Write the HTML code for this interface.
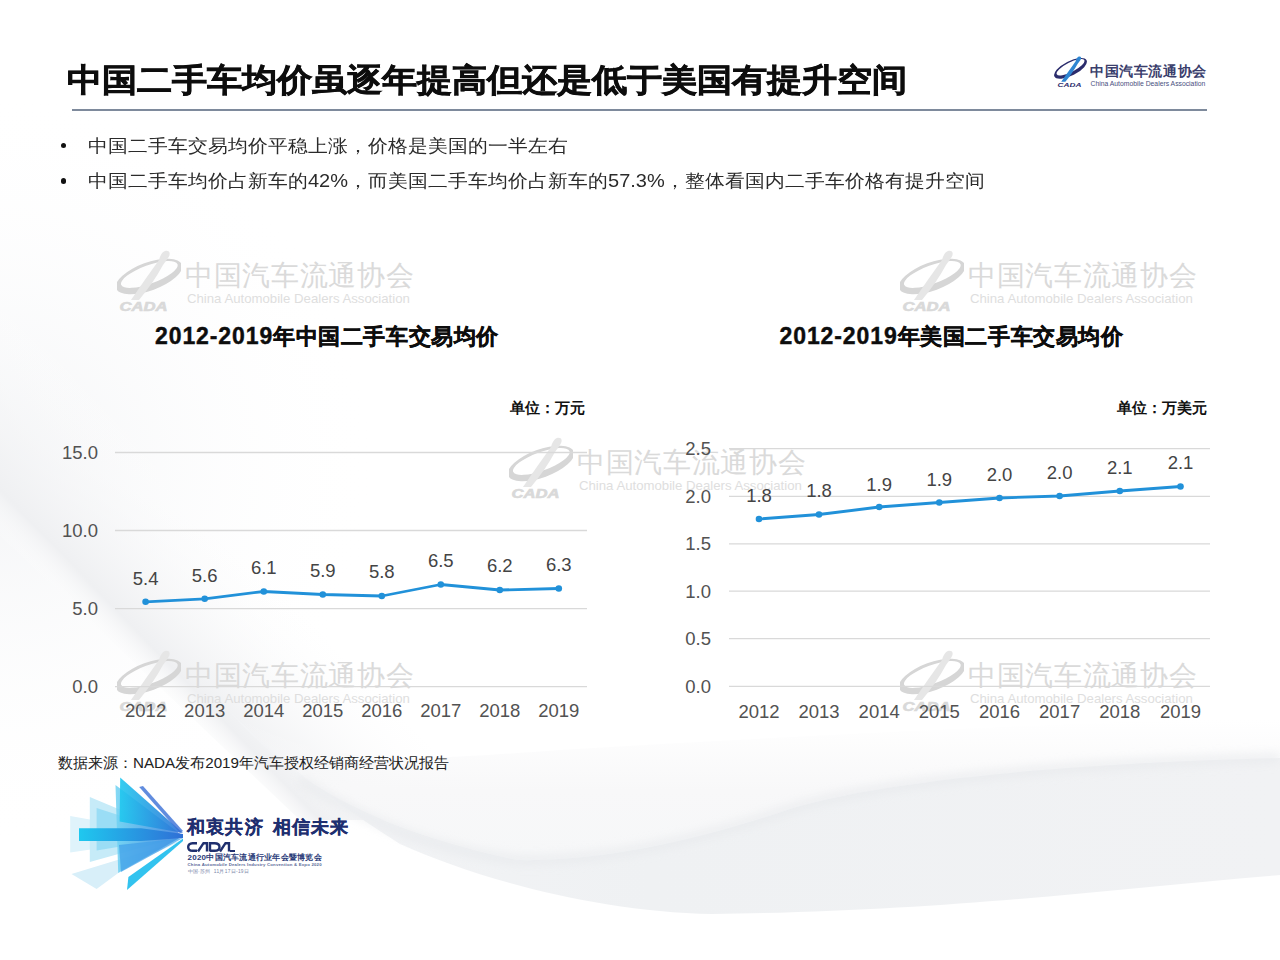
<!DOCTYPE html>
<html><head><meta charset="utf-8">
<style>
html,body{margin:0;padding:0;}
body{width:1280px;height:960px;position:relative;overflow:hidden;background:#fff;font-family:"Liberation Sans",sans-serif;color:#222;}
.a{position:absolute;white-space:nowrap;}
#title{left:67px;top:55.5px;font-size:35px;font-weight:bold;color:#0d0d0d;-webkit-text-stroke:0.7px #0d0d0d;line-height:48px;letter-spacing:0px;transform:scaleY(0.91);transform-origin:0 23.5px;}
#rule{left:72px;top:109px;width:1135px;height:2px;background:#7e8a9c;}
.bul{left:88px;font-size:20px;color:#2b2b2b;line-height:28px;transform:scaleY(0.91);transform-origin:0 13.8px;}
.dot{left:59px;font-size:16px;color:#2b2b2b;line-height:28px;}
.ctitle{letter-spacing:0.6px;font-size:22px;font-weight:bold;color:#0d0d0d;-webkit-text-stroke:0.4px #0d0d0d;line-height:30px;}
.dg{letter-spacing:0.9px;font-size:23px;}
.unit{font-size:15px;font-weight:bold;color:#111;line-height:20px;}
#src{left:58px;top:753px;font-size:15.2px;color:#222;line-height:20px;}
.wm{position:absolute;width:300px;height:65px;}
.wm svg{position:absolute;left:0;top:0;}
.wm .cn{position:absolute;left:68px;top:9px;font-size:28px;letter-spacing:0.7px;color:#dadada;line-height:34px;white-space:nowrap;}
.wm .en{position:absolute;left:70px;top:41px;font-size:13.2px;color:#dedede;line-height:16px;white-space:nowrap;}
</style></head>
<body>
<!-- background waves -->
<svg class="a" style="left:0;top:0" width="1280" height="960" viewBox="0 0 1280 960">
  <defs>
    <radialGradient id="haze" cx="0" cy="470" r="380" gradientUnits="userSpaceOnUse">
      <stop offset="0" stop-color="#f3f4f6"/>
      <stop offset="1" stop-color="#ffffff" stop-opacity="0"/>
    </radialGradient>
    <linearGradient id="fold" x1="128" y1="674" x2="258" y2="548" gradientUnits="userSpaceOnUse">
      <stop offset="0" stop-color="#ffffff" stop-opacity="0"/>
      <stop offset="0.2" stop-color="#eff0f2" stop-opacity="1"/>
      <stop offset="1" stop-color="#ffffff" stop-opacity="0"/>
    </linearGradient>
    <linearGradient id="rib" x1="230" y1="0" x2="1280" y2="0" gradientUnits="userSpaceOnUse">
      <stop offset="0" stop-color="#f3f4f6"/>
      <stop offset="0.4" stop-color="#eff1f3"/>
      <stop offset="1" stop-color="#f1f2f4"/>
    </linearGradient>
    <linearGradient id="rib2" x1="0" y1="700" x2="0" y2="910" gradientUnits="userSpaceOnUse">
      <stop offset="0" stop-color="#ffffff" stop-opacity="0"/>
      <stop offset="1" stop-color="#f1f3f5"/>
    </linearGradient>
    <linearGradient id="up" x1="0" y1="720" x2="0" y2="860" gradientUnits="userSpaceOnUse">
      <stop offset="0" stop-color="#f8f8f9" stop-opacity="0"/>
      <stop offset="0.5" stop-color="#f8f8f9" stop-opacity="1"/>
      <stop offset="1" stop-color="#f6f7f8" stop-opacity="1"/>
    </linearGradient>
  <filter id="blur4" x="-10%" y="-50%" width="120%" height="200%"><feGaussianBlur stdDeviation="5"/></filter>
  </defs>
  <rect x="0" y="0" width="1280" height="960" fill="url(#haze)"/>
  <polygon points="-290,261 -160,135 500,820 300,820" fill="url(#fold)"/>
  <path d="M230,712 C320,770 420,760 560,750 C800,735 1050,725 1280,715 L1280,760 C1000,765 850,790 790,809 C700,840 600,862 517,860 C380,830 300,790 230,712 Z" fill="url(#up)"/>
  <path d="M230,712 C300,790 380,830 517,860 C600,862 700,840 790,809 C850,790 1000,765 1280,758 L1280,875 C1100,890 950,911 712,914 C600,912 480,880 400,844 C330,800 280,760 230,712 Z" fill="url(#rib)"/>
  <path d="M300,780 C380,830 440,850 517,860 C600,862 700,840 790,809 C850,790 1000,765 1280,758" fill="none" stroke="#e6e8eb" stroke-width="10" opacity="0.6" filter="url(#blur4)"/>
</svg>

<!-- watermarks -->
<div class="wm" style="left:117px;top:250px"><svg width="64" height="64" viewBox="0 0 64 64" ><g transform="rotate(-20 32 26.5)"><path fill-rule="evenodd" fill="#d6d6d6" d="M-3,26.5 a35,14 0 1,0 70,0 a35,14 0 1,0 -70,0 Z M3,24.7 a30,9.2 0 1,0 60,0 a30,9.2 0 1,0 -60,0 Z"/></g><path fill="#e6e6e6" d="M48,1 C53,0 54,4 51,8 L46,15 C40,26 32,38 22,50 L14,50 C22,38 32,24 42,10 C43,6 45,2 48,1 Z"/><text x="2.5" y="60.5" font-size="12" font-weight="bold" font-style="italic" fill="#d9d9d9" font-family="Liberation Sans" textLength="48" lengthAdjust="spacingAndGlyphs" stroke="#d9d9d9" stroke-width="0.6">CADA</text></svg><div class="cn">中国汽车流通协会</div><div class="en">China Automobile Dealers Association</div></div>
<div class="wm" style="left:900px;top:250px"><svg width="64" height="64" viewBox="0 0 64 64" ><g transform="rotate(-20 32 26.5)"><path fill-rule="evenodd" fill="#d6d6d6" d="M-3,26.5 a35,14 0 1,0 70,0 a35,14 0 1,0 -70,0 Z M3,24.7 a30,9.2 0 1,0 60,0 a30,9.2 0 1,0 -60,0 Z"/></g><path fill="#e6e6e6" d="M48,1 C53,0 54,4 51,8 L46,15 C40,26 32,38 22,50 L14,50 C22,38 32,24 42,10 C43,6 45,2 48,1 Z"/><text x="2.5" y="60.5" font-size="12" font-weight="bold" font-style="italic" fill="#d9d9d9" font-family="Liberation Sans" textLength="48" lengthAdjust="spacingAndGlyphs" stroke="#d9d9d9" stroke-width="0.6">CADA</text></svg><div class="cn">中国汽车流通协会</div><div class="en">China Automobile Dealers Association</div></div>
<div class="wm" style="left:509px;top:437px"><svg width="64" height="64" viewBox="0 0 64 64" ><g transform="rotate(-20 32 26.5)"><path fill-rule="evenodd" fill="#d6d6d6" d="M-3,26.5 a35,14 0 1,0 70,0 a35,14 0 1,0 -70,0 Z M3,24.7 a30,9.2 0 1,0 60,0 a30,9.2 0 1,0 -60,0 Z"/></g><path fill="#e6e6e6" d="M48,1 C53,0 54,4 51,8 L46,15 C40,26 32,38 22,50 L14,50 C22,38 32,24 42,10 C43,6 45,2 48,1 Z"/><text x="2.5" y="60.5" font-size="12" font-weight="bold" font-style="italic" fill="#d9d9d9" font-family="Liberation Sans" textLength="48" lengthAdjust="spacingAndGlyphs" stroke="#d9d9d9" stroke-width="0.6">CADA</text></svg><div class="cn">中国汽车流通协会</div><div class="en">China Automobile Dealers Association</div></div>
<div class="wm" style="left:117px;top:650px"><svg width="64" height="64" viewBox="0 0 64 64" ><g transform="rotate(-20 32 26.5)"><path fill-rule="evenodd" fill="#d6d6d6" d="M-3,26.5 a35,14 0 1,0 70,0 a35,14 0 1,0 -70,0 Z M3,24.7 a30,9.2 0 1,0 60,0 a30,9.2 0 1,0 -60,0 Z"/></g><path fill="#e6e6e6" d="M48,1 C53,0 54,4 51,8 L46,15 C40,26 32,38 22,50 L14,50 C22,38 32,24 42,10 C43,6 45,2 48,1 Z"/><text x="2.5" y="60.5" font-size="12" font-weight="bold" font-style="italic" fill="#d9d9d9" font-family="Liberation Sans" textLength="48" lengthAdjust="spacingAndGlyphs" stroke="#d9d9d9" stroke-width="0.6">CADA</text></svg><div class="cn">中国汽车流通协会</div><div class="en">China Automobile Dealers Association</div></div>
<div class="wm" style="left:900px;top:650px"><svg width="64" height="64" viewBox="0 0 64 64" ><g transform="rotate(-20 32 26.5)"><path fill-rule="evenodd" fill="#d6d6d6" d="M-3,26.5 a35,14 0 1,0 70,0 a35,14 0 1,0 -70,0 Z M3,24.7 a30,9.2 0 1,0 60,0 a30,9.2 0 1,0 -60,0 Z"/></g><path fill="#e6e6e6" d="M48,1 C53,0 54,4 51,8 L46,15 C40,26 32,38 22,50 L14,50 C22,38 32,24 42,10 C43,6 45,2 48,1 Z"/><text x="2.5" y="60.5" font-size="12" font-weight="bold" font-style="italic" fill="#d9d9d9" font-family="Liberation Sans" textLength="48" lengthAdjust="spacingAndGlyphs" stroke="#d9d9d9" stroke-width="0.6">CADA</text></svg><div class="cn">中国汽车流通协会</div><div class="en">China Automobile Dealers Association</div></div>

<div id="title" class="a">中国二手车均价虽逐年提高但还是低于美国有提升空间</div>
<div id="rule" class="a"></div>

<!-- top right logo -->
<div class="a" style="left:1054px;top:55.5px;width:160px;height:36px;">
  <svg width="33" height="33" viewBox="0 0 64 64" style="position:absolute;left:0;top:0"><g transform="rotate(-27 32 24)"><path fill-rule="evenodd" fill="#2b2c6c" d="M-3,24 a35,14 0 1,0 70,0 a35,14 0 1,0 -70,0 Z M3,22.2 a30,9.2 0 1,0 60,0 a30,9.2 0 1,0 -60,0 Z"/></g><path fill="#2f86d2" d="M48,1 C53,0 54,4 51,8 L46,15 C40,26 32,38 22,50 L14,50 C22,38 32,24 42,10 C43,6 45,2 48,1 Z"/><text x="7" y="60.5" font-size="11" font-weight="bold" font-style="italic" fill="#2b2c6c" font-family="Liberation Sans" textLength="46" lengthAdjust="spacingAndGlyphs">CADA</text></svg>
  <div class="a" style="left:36px;top:6px;font-size:14px;letter-spacing:0.6px;font-weight:bold;color:#3a3e6c;line-height:18px;">中国汽车流通协会</div>
  <div class="a" style="left:36.5px;top:24.5px;font-size:6.8px;color:#4a4f7e;line-height:8px;">China Automobile Dealers Association</div>
</div>

<div class="a" style="left:60.8px;top:142.9px;width:5.5px;height:5.5px;border-radius:50%;background:#111"></div>
<div class="a bul" style="top:132px">中国二手车交易均价平稳上涨，价格是美国的一半左右</div>
<div class="a" style="left:60.8px;top:178.3px;width:5.5px;height:5.5px;border-radius:50%;background:#111"></div>
<div class="a bul" style="top:167px">中国二手车均价占新车的42%，而美国二手车均价占新车的57.3%，整体看国内二手车价格有提升空间</div>

<div class="a ctitle" style="left:155px;top:321px"><span class="dg">2012-2019</span>年中国二手车交易均价</div>
<div class="a ctitle" style="left:779.5px;top:321px"><span class="dg">2012-2019</span>年美国二手车交易均价</div>
<div class="a unit" style="left:509.5px;top:398px">单位：万元</div>
<div class="a unit" style="left:1116.5px;top:398px">单位：万美元</div>

<!-- left chart -->
<svg class="a" style="left:0;top:0" width="1280" height="960" viewBox="0 0 1280 960" font-family="Liberation Sans">
  <g stroke="#d9d9d9" stroke-width="1.3"><line x1="115" y1="452.5" x2="587" y2="452.5"/><line x1="115" y1="530.5" x2="587" y2="530.5"/><line x1="115" y1="608.7" x2="587" y2="608.7"/><line x1="115" y1="686.7" x2="587" y2="686.7"/></g>
  <g fill="#525252" font-size="18.5" text-anchor="end"><text x="98" y="458.5">15.0</text><text x="98" y="536.5">10.0</text><text x="98" y="614.7">5.0</text><text x="98" y="692.7">0.0</text></g>
  <polyline fill="none" stroke="#2191d9" stroke-width="2.8" stroke-linejoin="round" points="145.6,601.8 204.7,598.8 263.8,591.5 322.8,594.5 381.8,596.0 440.8,584.5 499.8,590.0 558.8,588.5"/>
  <g fill="#2191d9"><circle cx="145.6" cy="601.8" r="3.3"/><circle cx="204.7" cy="598.8" r="3.3"/><circle cx="263.8" cy="591.5" r="3.3"/><circle cx="322.8" cy="594.5" r="3.3"/><circle cx="381.8" cy="596.0" r="3.3"/><circle cx="440.8" cy="584.5" r="3.3"/><circle cx="499.8" cy="590.0" r="3.3"/><circle cx="558.8" cy="588.5" r="3.3"/></g>
  <g fill="#444444" font-size="18.5" text-anchor="middle"><text x="145.6" y="585">5.4</text><text x="204.7" y="582">5.6</text><text x="263.8" y="574">6.1</text><text x="322.8" y="577">5.9</text><text x="381.8" y="578">5.8</text><text x="440.8" y="567">6.5</text><text x="499.8" y="572">6.2</text><text x="558.8" y="571">6.3</text></g>
  <g fill="#525252" font-size="18.5" text-anchor="middle"><text x="145.6" y="717">2012</text><text x="204.7" y="717">2013</text><text x="263.8" y="717">2014</text><text x="322.8" y="717">2015</text><text x="381.8" y="717">2016</text><text x="440.8" y="717">2017</text><text x="499.8" y="717">2018</text><text x="558.8" y="717">2019</text></g>
  <g stroke="#d9d9d9" stroke-width="1.3"><line x1="729" y1="448.6" x2="1210" y2="448.6"/><line x1="729" y1="496.4" x2="1210" y2="496.4"/><line x1="729" y1="543.8" x2="1210" y2="543.8"/><line x1="729" y1="591.2" x2="1210" y2="591.2"/><line x1="729" y1="638.6" x2="1210" y2="638.6"/><line x1="729" y1="686.3" x2="1210" y2="686.3"/></g>
  <g fill="#525252" font-size="18.5" text-anchor="end"><text x="711" y="455.1">2.5</text><text x="711" y="502.9">2.0</text><text x="711" y="550.3">1.5</text><text x="711" y="597.7">1.0</text><text x="711" y="645.1">0.5</text><text x="711" y="692.8">0.0</text></g>
  <polyline fill="none" stroke="#2191d9" stroke-width="2.8" stroke-linejoin="round" points="759,519.0 819,514.5 879.2,507.0 939.3,502.5 999.5,498.0 1059.6,496.0 1119.8,491.0 1180.5,486.5"/>
  <g fill="#2191d9"><circle cx="759" cy="519.0" r="3.3"/><circle cx="819" cy="514.5" r="3.3"/><circle cx="879.2" cy="507.0" r="3.3"/><circle cx="939.3" cy="502.5" r="3.3"/><circle cx="999.5" cy="498.0" r="3.3"/><circle cx="1059.6" cy="496.0" r="3.3"/><circle cx="1119.8" cy="491.0" r="3.3"/><circle cx="1180.5" cy="486.5" r="3.3"/></g>
  <g fill="#444444" font-size="18.5" text-anchor="middle"><text x="759" y="502">1.8</text><text x="819" y="497">1.8</text><text x="879.2" y="491">1.9</text><text x="939.3" y="486">1.9</text><text x="999.5" y="481">2.0</text><text x="1059.6" y="479">2.0</text><text x="1119.8" y="474">2.1</text><text x="1180.5" y="469">2.1</text></g>
  <g fill="#525252" font-size="18.5" text-anchor="middle"><text x="759" y="718">2012</text><text x="819" y="718">2013</text><text x="879.2" y="718">2014</text><text x="939.3" y="718">2015</text><text x="999.5" y="718">2016</text><text x="1059.6" y="718">2017</text><text x="1119.8" y="718">2018</text><text x="1180.5" y="718">2019</text></g>
</svg>

<div id="src" class="a">数据来源：NADA发布2019年汽车授权经销商经营状况报告</div>

<!-- bottom-left event logo -->
<svg class="a" style="left:0;top:0" width="1280" height="960" viewBox="0 0 1280 960">
  <defs>
    <linearGradient id="lb1" x1="0" y1="0" x2="1" y2="0"><stop offset="0" stop-color="#1fc8ef"/><stop offset="1" stop-color="#2f6fd6"/></linearGradient>
    <linearGradient id="lb2" x1="0" y1="0" x2="1" y2="0"><stop offset="0" stop-color="#6fd3f3"/><stop offset="1" stop-color="#3a78da"/></linearGradient>
  </defs>
  <polygon points="71.5,874 96.6,889 127.7,866 183,840" fill="#d8eff9"/>
  <polygon points="70.2,816 70.2,852.6 183,836" fill="#dff3fb"/>
  <polygon points="89.8,797 89.8,862 183,836" fill="#c6ebf8"/>
  <polygon points="96.6,808 96.6,850.5 183,836" fill="#8fd9f4" opacity="0.8"/>
  <polygon points="115.5,785 118.2,873 183,836" fill="url(#lb2)" opacity="0.85"/>
  <polygon points="120.2,777.4 119.6,821.4 183,833" fill="url(#lb1)" opacity="0.9"/>
  <polygon points="139.2,786.9 143,786 183,831 180,833" fill="#3a6fd6" opacity="0.8"/>
  <polygon points="79,828.2 141.2,828.2 183,834 183,838 141.2,841 79,841" fill="url(#lb1)"/>
  <polygon points="127,890 128.4,877 183,838.5 183,841" fill="#32c3ef"/>
  <polygon points="119,845 121,872 183,838" fill="#3d9ee8" opacity="0.7"/>
</svg>
<div class="a" style="left:187px;top:814.5px;font-size:18px;font-weight:bold;color:#1f2f70;line-height:24px;letter-spacing:1.2px;-webkit-text-stroke:0.3px #1f2f70">和衷共济<span style="display:inline-block;width:9px"></span>相信未来</div>
<svg class="a" style="left:187px;top:841px" width="50" height="12" viewBox="0 0 50 12">
  <g fill="none" stroke="#1f2f6e" stroke-width="2.4" stroke-linejoin="miter">
    <path d="M10,2.2 L5.5,2.2 C2.5,2.2 1.2,4 1.2,6 C1.2,8 2.5,9.8 5.5,9.8 L10,9.8"/>
    <path d="M11,10.5 L16.5,2.2 L20,2.2 L20,10.5"/>
    <path d="M23,10.5 L23,2.2 L27.5,2.2 C31,2.2 32.5,4 32.5,6 C32.5,8 31,9.8 27.5,9.8 L23,9.8"/>
    <path d="M33,10.5 L38.5,2.2 L42,2.2 L42,10.5"/>
  </g>
  <rect x="43" y="9" width="5" height="2" fill="#1f2f6e"/>
</svg>
<div class="a" style="left:187.5px;top:853px;font-size:8px;font-weight:bold;color:#2a3a78;line-height:10px;letter-spacing:0.25px">2020中国汽车流通行业年会暨博览会</div>
<div class="a" style="left:187.5px;top:862px;font-size:4.3px;font-weight:bold;color:#5a6a98;line-height:5px;letter-spacing:0.2px">China Automobile Dealers Industry Convention &amp; Expo 2020</div>
<div class="a" style="left:187.5px;top:869px;font-size:4.8px;color:#7a86a8;line-height:6px;letter-spacing:0.3px">中国·苏州&nbsp;&nbsp;11月17日-19日</div>
</body></html>
